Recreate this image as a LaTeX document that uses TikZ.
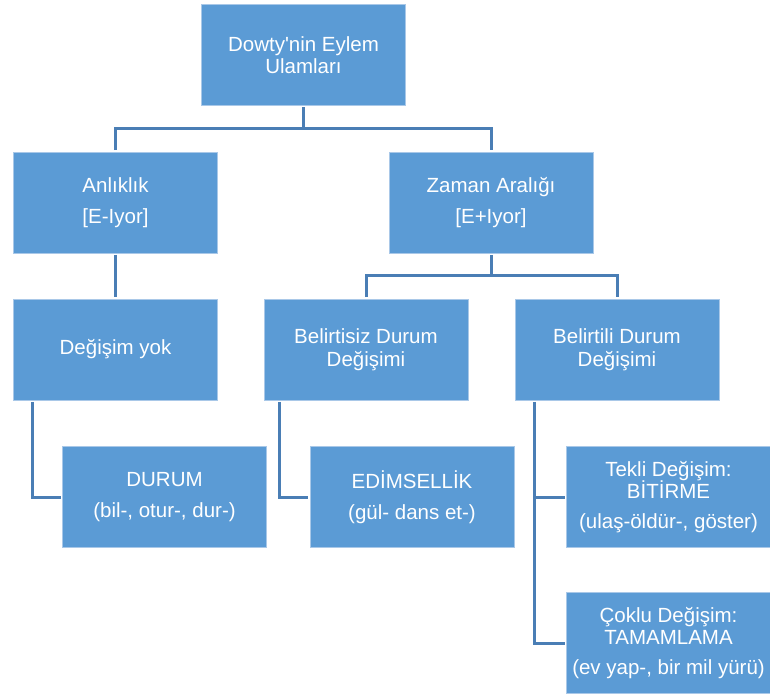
\documentclass[tikz,border=0pt]{standalone}
\usepackage{fontspec}
\setmainfont{Liberation Sans}
\definecolor{boxfill}{HTML}{5B9BD5}
\definecolor{boxedge}{HTML}{A9C8E8}
\definecolor{linecol}{HTML}{4A7EB5}
\tikzset{
  box/.style={rectangle, fill=boxfill, draw=boxedge, line width=0.8pt,
    minimum width=204pt, minimum height=101pt, text=white, align=center,
    font=\fontsize{20.5}{22.5}\selectfont, inner sep=0pt},
  conn/.style={draw=linecol, line width=3pt, shorten >=1.5pt, shorten <=1.5pt}
}
\begin{document}
\begin{tikzpicture}[x=1pt,y=-1pt]
\useasboundingbox (0,0) rectangle (770,693);
\node[box] (root) at (303.5,55) {Dowty\textquotesingle nin Eylem\\Ulamları};
\node[box] (anl) at (115.5,202.5) {Anlıklık\\[9pt][E-Iyor]};
\node[box] (zam) at (491,202.5) {Zaman Aralığı\\[9pt][E+Iyor]};
\node[box] (deg) at (115.5,349.5) {Değişim yok};
\node[box] (bel1) at (366,349.5) {Belirtisiz Durum\\Değişimi};
\node[box] (bel2) at (617,349.5) {Belirtili Durum\\Değişimi};
\node[box] (durum) at (164.5,497) {DURUM\\[9pt](bil-, otur-, dur-)};
\node[box] (edim) at (412,497) {EDİMSELLİK\\[9pt](gül- dans et-)};
\node[box] (tekli) at (668.5,497) {Tekli Değişim:\\BİTİRME\\[7pt](ulaş-öldür-, göster)};
\node[box] (coklu) at (668.5,643) {Çoklu Değişim:\\TAMAMLAMA\\[7pt](ev yap-, bir mil yürü)};
% connectors
\coordinate (j1) at (303.5,128.5);
\draw[conn, shorten >=0pt] (root.south) -- (j1);
\draw[conn] (anl.north) |- (j1) -| (zam.north);
\draw[conn] (anl.south) -- (deg.north);
\coordinate (j2) at (491,275);
\draw[conn, shorten >=0pt] (zam.south) -- (j2);
\draw[conn] (bel1.north) |- (j2) -| (bel2.north);
\draw[conn] ([xshift=-83.5pt]deg.south) |- (durum.west);
\draw[conn] ([xshift=-87pt]bel1.south) |- (edim.west);
\draw[conn] ([xshift=-83pt]bel2.south) |- (coklu.west);
\draw[conn, shorten <=0pt] ([xshift=-83pt]bel2.south |- tekli.west) -- (tekli.west);
\end{tikzpicture}
\end{document}
